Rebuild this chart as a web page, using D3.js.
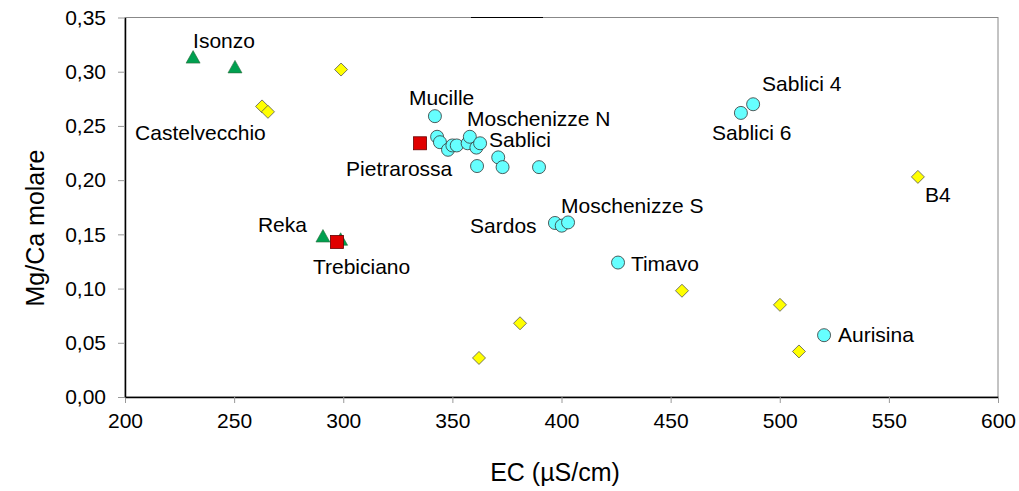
<!DOCTYPE html>
<html>
<head>
<meta charset="utf-8">
<script src="https://cdn.jsdelivr.net/npm/d3@7"></script>
<style>
  body { margin: 0; background: #fff; }
  text { font-family: "Liberation Sans", Arial, sans-serif; fill: #000; }
</style>
</head>
<body>
<script>
const WIDTH = 1019;
const HEIGHT = 491;
const MARGIN = { top: 17.5, right: 21, bottom: 94, left: 125 };

// Yellow diamonds
const diamondEC = [262.8, 265.5, 299, 362.2, 381, 455.2, 500.1, 508.8, 563.3];
const diamondMg = [0.268, 0.263, 0.302, 0.036, 0.068, 0.098, 0.085, 0.042, 0.203];
// Green triangles
const triangleEC = [231.2, 250.4, 290.7, 298.8];
const triangleMg = [0.313, 0.304, 0.148, 0.145];
// Cyan circles
const circleEC = [342, 343, 344.3, 348, 350, 352, 357, 358, 361, 362.7, 361.3, 371, 373, 389.7,
  397, 400.1, 403, 425.9, 520.3, 487.8, 482.2];
const circleMg = [0.259, 0.240, 0.235, 0.228, 0.232, 0.232, 0.234, 0.240, 0.230, 0.234, 0.213,
  0.221, 0.212, 0.212, 0.1605, 0.158, 0.161, 0.124, 0.057, 0.270, 0.262];
// Red squares
const squareEC = [335.2, 297.1];
const squareMg = [0.234, 0.143];

const labelNames = ["Isonzo", "Castelvecchio", "Mucille", "Moschenizze N", "Sablici", "Pietrarossa",
  "Sablici 4", "Sablici 6", "B4", "Moschenizze S", "Sardos", "Timavo", "Aurisina", "Reka", "Trebiciano"];
const labelEC = [231.2, 204.6, 330.1, 356.7, 366.8, 301.3, 491.9, 469, 566.5, 399.8, 358.1, 431.8, 526.7, 260.9, 286.1];
const labelMg = [0.322, 0.237, 0.269, 0.250, 0.2306, 0.2038, 0.2822, 0.237, 0.180, 0.1697, 0.1512, 0.1162, 0.0507, 0.1522, 0.1134];

const xTicks = [200, 250, 300, 350, 400, 450, 500, 550, 600];
const yTicks = [0, 0.05, 0.1, 0.15, 0.2, 0.25, 0.3, 0.35];

const x = d3.scaleLinear().domain([200, 600]).range([MARGIN.left, WIDTH - MARGIN.right]);
const y = d3.scaleLinear().domain([0, 0.35]).range([HEIGHT - MARGIN.bottom, MARGIN.top]);
const fmt = (d) => d3.format(".2f")(d).replace(".", ",");

const svg = d3.select("body").append("svg").attr("width", WIDTH).attr("height", HEIGHT);

// frame: top and right in gray
svg.append("rect")
  .attr("x", x(200)).attr("y", y(0.35))
  .attr("width", x(600) - x(200)).attr("height", y(0) - y(0.35))
  .attr("fill", "none").attr("stroke", "#888").attr("stroke-width", 1);
svg.append("line")
  .attr("x1", 471).attr("x2", 543).attr("y1", y(0.35)).attr("y2", y(0.35))
  .attr("stroke", "#000");

const xAxis = svg.append("g")
  .attr("transform", `translate(0,${y(0)})`)
  .call(d3.axisBottom(x).tickValues(xTicks).tickSize(6).tickSizeOuter(0).tickPadding(10));
const yAxis = svg.append("g")
  .attr("transform", `translate(${x(200)},0)`)
  .call(d3.axisLeft(y).tickValues(yTicks).tickFormat(fmt).tickSize(7).tickSizeOuter(0).tickPadding(12));

[xAxis, yAxis].forEach((a) => {
  a.select(".domain").attr("stroke", "#000").attr("stroke-width", 1.5);
  a.selectAll(".tick line").attr("stroke", "#999");
  a.selectAll(".tick text").style("font-size", "21px").style("font-family", "Liberation Sans, Arial, sans-serif");
});
xAxis.selectAll(".tick text").attr("dy", "0.72em");

svg.append("text")
  .attr("x", 555).attr("y", 481)
  .attr("text-anchor", "middle")
  .style("font-size", "25px")
  .text("EC (µS/cm)");
svg.append("text")
  .attr("transform", `translate(44,${228}) rotate(-90)`)
  .attr("text-anchor", "middle")
  .style("font-size", "25px")
  .text("Mg/Ca molare");

// markers
const stroke = "#333";
svg.append("g").selectAll("path")
  .data(triangleEC.map((d, i) => [d, triangleMg[i]]))
  .join("path")
  .attr("transform", (d) => `translate(${x(d[0])},${y(d[1])})`)
  .attr("d", "M0,-7L7,5.5L-7,5.5Z")
  .attr("fill", "#00a050").attr("stroke", "#2a6a3a").attr("stroke-width", 0.6);

svg.append("g").selectAll("path")
  .data(diamondEC.map((d, i) => [d, diamondMg[i]]))
  .join("path")
  .attr("transform", (d) => `translate(${x(d[0])},${y(d[1])})`)
  .attr("d", "M0,-6.5L6.5,0L0,6.5L-6.5,0Z")
  .attr("fill", "#ffff00").attr("stroke", "#555").attr("stroke-width", 0.8);

svg.append("g").selectAll("circle")
  .data(circleEC.map((d, i) => [d, circleMg[i]]))
  .join("circle")
  .attr("cx", (d) => x(d[0])).attr("cy", (d) => y(d[1]))
  .attr("r", 6.5)
  .attr("fill", "#66ffff").attr("stroke", stroke).attr("stroke-width", 0.8);

svg.append("g").selectAll("rect")
  .data(squareEC.map((d, i) => [d, squareMg[i]]))
  .join("rect")
  .attr("x", (d) => x(d[0]) - 6.5).attr("y", (d) => y(d[1]) - 6.5)
  .attr("width", 13).attr("height", 13)
  .attr("fill", "#e00000").attr("stroke", "#600").attr("stroke-width", 0.8);

svg.append("g").selectAll("text")
  .data(labelNames)
  .join("text")
  .attr("x", (d, i) => x(labelEC[i]))
  .attr("y", (d, i) => y(labelMg[i]))
  .style("font-size", "21px")
  .text((d) => d);
</script>
</body>
</html>
